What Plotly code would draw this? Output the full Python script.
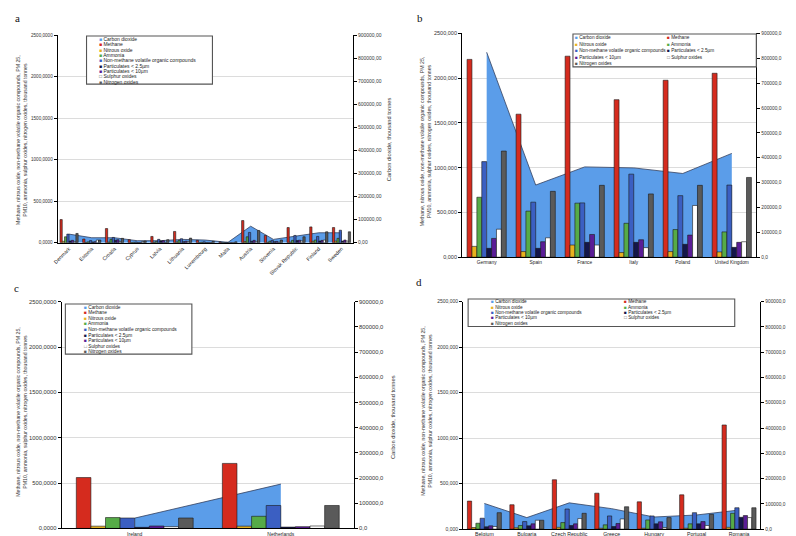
import plotly.graph_objects as go

W, H = 796, 536

# ---------------- data ----------------
SERIES_NAMES = ["Carbon dioxide", "Methane", "Nitrous oxide", "Ammonia",
                "Non-methane volatile organic compounds", "Particulates &lt; 2.5µm",
                "Particulates &lt; 10µm", "Sulphur oxides", "Nitrogen oxides"]

# Panel a
a_countries = ["Denmark", "Estonia", "Croatia", "Cyprus", "Latvia", "Lithuania", "Luxembourg",
               "Malta", "Austria", "Slovenia", "Slovak Republic", "Finland", "Sweden"]
a_co2 = [37100, 21400, 21400, 8600, 8600, 14300, 11400, 1400, 71400, 14300, 28600, 42900, 42900]
a_ch4 = [278, 44, 170, 36, 75, 135, 28, 9, 266, 87, 182, 190, 182]
a_n2o = [17, 4, 7, 2, 5, 9, 1, 0.3, 13, 4, 7, 17, 20]
a_nh3 = [71, 10, 40, 5, 15, 28, 5, 1.5, 71, 18, 28, 32, 52]
a_nmvoc = [103, 25, 63, 8, 40, 48, 10, 4, 123, 28, 87, 75, 150]
a_pm25 = [20, 8, 30, 2, 20, 12, 2, 0.5, 17, 12, 25, 20, 20]
a_pm10 = [28, 12, 36, 3, 25, 18, 3, 1, 28, 15, 30, 28, 32]
a_sox = [12, 32, 15, 15, 3, 15, 1, 1, 15, 5, 20, 32, 20]
a_nox = [111, 32, 52, 20, 36, 55, 16, 10, 147, 32, 71, 131, 131]

# Panel b
b_countries = ["Germany", "Spain", "France", "Italy", "Poland", "United Kingdom"]
b_co2 = [824400, 290300, 363200, 359200, 336700, 417500]
b_ch4 = [2210, 1598, 2246, 1760, 1977, 2055]
b_n2o = [121, 63, 136, 52, 63, 59]
b_nh3 = [670, 515, 604, 379, 309, 283]
b_nmvoc = [1068, 615, 607, 928, 688, 806]
b_pm25 = [99, 99, 166, 166, 144, 110]
b_pm10 = [210, 173, 254, 195, 247, 166]
b_sox = [313, 217, 136, 107, 578, 173]
b_nox = [1186, 736, 803, 707, 803, 891]

# Panel c
c_countries = ["Ireland", "Netherlands"]
c_co2 = [41000, 176000]
c_ch4 = [561, 717]
c_n2o = [25, 25]
c_nh3 = [120, 134]
c_nmvoc = [115, 253]
c_pm25 = [12, 15]
c_pm10 = [27, 20]
c_sox = [20, 27]
c_nox = [115, 253]

# Panel d
d_countries = ["Belgium", "Bulgaria", "Czech Republic", "Greece", "Hungary", "Portugal", "Romania"]
d_co2 = [101700, 45600, 104000, 81000, 48000, 56000, 75600]
d_ch4 = [308, 268, 543, 395, 300, 377, 1145]
d_n2o = [18, 15, 20, 10, 10, 10, 20]
d_nh3 = [65, 40, 72, 47, 101, 58, 174]
d_nmvoc = [120, 83, 221, 145, 145, 181, 235]
d_pm25 = [25, 36, 40, 29, 58, 58, 130]
d_pm10 = [36, 58, 58, 62, 80, 83, 149]
d_sox = [29, 98, 116, 112, 18, 40, 127]
d_nox = [181, 98, 174, 246, 127, 163, 235]

left_tick_vals = [0, 500, 1000, 1500, 2000, 2500]
right_tick_vals = [0, 100000, 200000, 300000, 400000, 500000, 600000, 700000, 800000, 900000]

# ---------------- styles ----------------
COLORS = ["#5b9de9", "#d52b1e", "#e8b21f", "#56ab47", "#3b5fc2",
          "#14164a", "#5a1d96", "#ffffff", "#5a5a5a"]
FONT = "Liberation Sans, Arial, sans-serif"
LEFT_TITLE = ("Methane, nitrous oxide, non-methane volatile organic compounds, PM 25,<br>"
              "PM10, ammonia, sulphur oxides, nitrogen oxides, thousand tonnes")
RIGHT_TITLE = "Carbon dioxide, thousand tonnes"


def fx(px):
    return px / W


def fy(py):
    return 1 - py / H


panels = [
    dict(cats=a_countries, co2=a_co2,
         bars=[a_ch4, a_n2o, a_nh3, a_nmvoc, a_pm25, a_pm10, a_sox, a_nox],
         xd=(45, 342), yd=(24.3, 234.3), lfmt=".4f", rfmt=".2f", lfs=4.6, rfs=5.0,
         cfs=5.2, tangle=-45, letter="a", lpos=(5, 7),
         ltitle=(8.4, 130), rtitle=(378, 130),
         leg=dict(box=(74, 25.3, 200.7, 74), cols=[85.5], y0=28.2, dy=5.42, fs=5.0)),
    dict(cats=b_countries, co2=b_co2,
         bars=[b_ch4, b_n2o, b_nh3, b_nmvoc, b_pm25, b_pm10, b_sox, b_nox],
         xd=(452, 748), yd=(22.7, 249), lfmt=".3f", rfmt=".1f", lfs=5.5, rfs=4.8,
         cfs=4.8, tangle=0, letter="b", lpos=(410, 7),
         ltitle=(415.4, 132), rtitle=(785, 138),
         leg=dict(box=(563.5, 23.3, 748, 56.5), cols=[565, 657], y0=26.9, dy=6.6, fs=4.7)),
    dict(cats=c_countries, co2=c_co2,
         bars=[c_ch4, c_n2o, c_nh3, c_nmvoc, c_pm25, c_pm10, c_sox, c_nox],
         xd=(49, 343), yd=(294, 523.3), lfmt=".4f", rfmt=".1f", lfs=5.8, rfs=5.8,
         cfs=5.0, tangle=0, letter="c", lpos=(4, 280),
         ltitle=(8.4, 405), rtitle=(383, 411),
         leg=dict(box=(52.7, 296.3, 180, 347), cols=[70.5], y0=299.4, dy=5.68, fs=4.8)),
    dict(cats=d_countries, co2=d_co2,
         bars=[d_ch4, d_n2o, d_nh3, d_nmvoc, d_pm25, d_pm10, d_sox, d_nox],
         xd=(453, 752), yd=(294, 524), lfmt=".3f", rfmt=".1f", lfs=5.0, rfs=4.8,
         cfs=5.2, tangle=0, letter="d", lpos=(409, 274),
         ltitle=(416, 404), rtitle=(786.5, 418),
         leg=dict(box=(458, 291.3, 726.3, 319), cols=[480.5, 614], y0=294, dy=5.48, fs=4.7)),
]

fig = go.Figure()
layout = dict(width=W, height=H, margin=dict(l=0, r=0, t=0, b=0),
              paper_bgcolor="white", plot_bgcolor="white", showlegend=False,
              barmode="overlay", separators=",.", font=dict(family=FONT, color="#333333"))
annotations = []
shapes = []

GROUP = 0.8
NB = 8
BW = GROUP / NB

for k, p in enumerate(panels):
    xid = "x" if k == 0 else f"x{k + 1}"
    ybase = "y" if k == 0 else f"y{2 * k + 1}"
    yover = f"y{2 * k + 2}"
    xname = "xaxis" if k == 0 else f"xaxis{k + 1}"
    ybname = "yaxis" if k == 0 else f"yaxis{2 * k + 1}"
    yoname = f"yaxis{2 * k + 2}"
    n = len(p["cats"])

    # CO2 area on base (right) axis -> drawn beneath the bars
    fig.add_trace(go.Scatter(x=p["cats"], y=p["co2"], xaxis=xid, yaxis=ybase,
                             mode="lines", fill="tozeroy", fillcolor=COLORS[0],
                             line=dict(color="#34405e", width=0.8),
                             name="Carbon dioxide", hoverinfo="x+y"))
    for i, vals in enumerate(p["bars"]):
        fig.add_trace(go.Bar(x=p["cats"], y=vals, xaxis=xid, yaxis=yover,
                             width=BW, offset=-GROUP / 2 + i * BW,
                             marker=dict(color=COLORS[i + 1],
                                         line=dict(color="#1a1a1a", width=0.6)),
                             name=SERIES_NAMES[i + 1].replace("&lt;", "<")))

    layout[xname] = dict(domain=[fx(p["xd"][0]), fx(p["xd"][1])], anchor=ybase,
                         type="category", range=[-0.5, n - 0.5], showline=True,
                         linecolor="#000000", linewidth=1.2, ticks="", ticklen=0,
                         showgrid=False, tickangle=p["tangle"],
                         tickfont=dict(size=p["cfs"], color="#222222"),
                         ticklabelstandoff=0)
    layout[ybname] = dict(domain=[fy(p["yd"][1]), fy(p["yd"][0])], anchor=xid, side="right",
                          range=[0, 900000], tickvals=right_tick_vals, tickformat=p["rfmt"],
                          showgrid=False, zeroline=False, showline=True, linecolor="#000000",
                          linewidth=1.2, ticks="outside", ticklen=3, tickcolor="#000000",
                          tickfont=dict(size=p["rfs"], color="#333333"))
    layout[yoname] = dict(overlaying=ybase, anchor=xid, side="left", range=[0, 2500],
                          tickvals=left_tick_vals, tickformat=p["lfmt"],
                          showgrid=True, gridcolor="#dcdcdc", gridwidth=0.8, zeroline=False,
                          showline=True, linecolor="#000000", linewidth=1.2,
                          ticks="outside", ticklen=3, tickcolor="#000000",
                          tickfont=dict(size=p["lfs"], color="#333333"))

    # axis titles (rotated text)
    annotations.append(dict(text=LEFT_TITLE, x=fx(p["ltitle"][0]), y=fy(p["ltitle"][1]),
                            xref="paper", yref="paper", showarrow=False, textangle=-90,
                            xanchor="center", yanchor="middle", align="center", borderpad=0,
                            font=dict(size=5.2, color="#333333", family=FONT)))
    annotations.append(dict(text=RIGHT_TITLE, x=fx(p["rtitle"][0]), y=fy(p["rtitle"][1]),
                            xref="paper", yref="paper", showarrow=False, textangle=-90,
                            xanchor="center", yanchor="middle", borderpad=0,
                            font=dict(size=5.7, color="#333333", family=FONT)))

    # panel letter
    annotations.append(dict(text=p["letter"], x=fx(p["lpos"][0]), y=fy(p["lpos"][1]),
                            xref="paper", yref="paper", showarrow=False,
                            xanchor="center", yanchor="middle",
                            font=dict(family="Liberation Serif, Times New Roman, serif",
                                      size=11, color="#111111")))

    # legend box (shape + text rows)
    lg = p["leg"]
    x0, y0, x1, y1 = lg["box"]
    shapes.append(dict(type="rect", xref="paper", yref="paper",
                       x0=fx(x0), x1=fx(x1), y0=fy(y1), y1=fy(y0),
                       line=dict(color="#555555", width=1.1), fillcolor="white", layer="above"))
    ncol = len(lg["cols"])
    for j, name in enumerate(SERIES_NAMES):
        row, col = divmod(j, ncol)
        if j == 7:
            glyph = "<span style='color:#555555'>□</span>"
        else:
            glyph = f"<span style='color:{COLORS[j]}'>■</span>"
        annotations.append(dict(text=f"{glyph} {name}", x=fx(lg["cols"][col]),
                                y=fy(lg["y0"] + row * lg["dy"]), xref="paper", yref="paper",
                                showarrow=False, xanchor="left", yanchor="middle",
                                borderpad=0,
                                font=dict(size=lg["fs"], color="#222222", family=FONT)))

layout["annotations"] = annotations
layout["shapes"] = shapes
fig.update_layout(**layout)

fig.write_html("out.html")
